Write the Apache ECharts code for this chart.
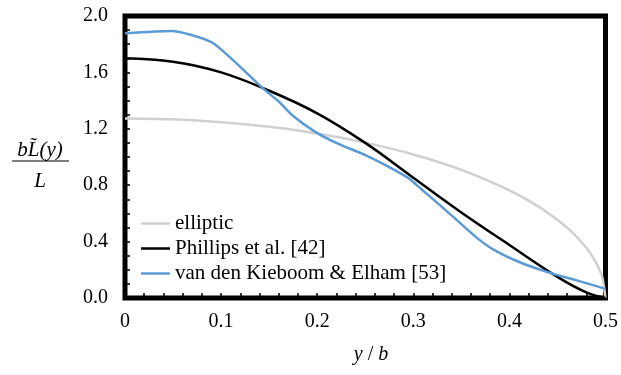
<!DOCTYPE html>
<html>
<head>
<meta charset="utf-8">
<script src="https://cdn.jsdelivr.net/npm/echarts@6/dist/echarts.min.js"></script>
<style>html,body{margin:0;padding:0;background:#fff;}#c{width:621px;height:375px;}</style>
</head>
<body>
<div id="c"></div>
<script>
// x = y/b, value = b*L~(y)/L
const ellipticX = [0, 0.05, 0.1, 0.15, 0.2, 0.25, 0.3, 0.35, 0.4, 0.43, 0.46, 0.48, 0.49, 0.495, 0.497, 0.5];
const ellipticY = [1.273, 1.267, 1.247, 1.214, 1.167, 1.102, 1.018, 0.909, 0.764, 0.650, 0.499, 0.356, 0.253, 0.180, 0.139, 0.0];

const phillipsX = [0, 0.05, 0.1, 0.15, 0.2, 0.25, 0.3, 0.35, 0.4, 0.45, 0.48, 0.5];
const phillipsY = [1.70, 1.675, 1.60, 1.47, 1.31, 1.10, 0.853, 0.607, 0.376, 0.15, 0.04, 0.0];

const kieboomX = [0, 0.048, 0.091, 0.143, 0.1605, 0.174, 0.198, 0.221, 0.25, 0.274, 0.295, 0.309, 0.333, 0.364, 0.383, 0.412, 0.4416, 0.47, 0.5];
const kieboomY = [1.878, 1.894, 1.81, 1.49, 1.39, 1.296, 1.178, 1.096, 1.014, 0.932, 0.85, 0.768, 0.627, 0.439, 0.345, 0.25, 0.18, 0.125, 0.065];

const seriesNames = ['elliptic', 'Phillips et al. [42]', 'van den Kieboom & Elham [53]'];
const xTicks = { min: 0, max: 0.5, interval: 0.1 };
const yTicks = { min: 0, max: 2.0, interval: 0.4 };

const pairs = (xs, ys) => xs.map((x, i) => [x, ys[i]]);
const FONT = '"Liberation Serif", "Times New Roman", serif';

const chart = echarts.init(document.getElementById('c'), null, { renderer: 'canvas' });
chart.setOption({
  animation: false,
  backgroundColor: '#fff',
  grid: { left: 125, top: 16, right: 13, bottom: 77, show: true, borderColor: '#000', borderWidth: 5, backgroundColor: 'transparent' },
  legend: {
    orient: 'vertical', left: 136, top: 208, itemWidth: 29, itemHeight: 2.5, itemGap: 4, icon: 'rect',
    textStyle: { fontFamily: FONT, fontSize: 21, color: '#000', lineHeight: 21 },
    data: seriesNames
  },
  xAxis: {
    type: 'value', min: xTicks.min, max: xTicks.max, interval: xTicks.interval,
    axisLine: { show: false },
    axisTick: { show: true, inside: true, length: 5, lineStyle: { color: '#000', width: 1.5 } },
    minorTick: { show: true, splitNumber: 5, length: 5, lineStyle: { color: '#000', width: 1.5 } },
    splitLine: { show: false },
    axisLabel: { margin: 14, fontFamily: FONT, fontSize: 20, color: '#000' }
  },
  yAxis: {
    type: 'value', min: yTicks.min, max: yTicks.max, interval: yTicks.interval,
    axisLine: { show: false },
    axisTick: { show: true, inside: true, length: 5, lineStyle: { color: '#000', width: 1.5 } },
    minorTick: { show: true, splitNumber: 4, length: 5, lineStyle: { color: '#000', width: 1.5 } },
    splitLine: { show: false },
    axisLabel: { margin: 17, fontFamily: FONT, fontSize: 20, color: '#000', formatter: v => v.toFixed(1) }
  },
  series: [
    { name: seriesNames[0], type: 'line', data: pairs(ellipticX, ellipticY), showSymbol: false, symbol: 'none', smooth: 0.25, lineStyle: { color: '#d0d0d0', width: 2.5 }, itemStyle: { color: '#d0d0d0' }, z: 2 },
    { name: seriesNames[1], type: 'line', data: pairs(phillipsX, phillipsY), showSymbol: false, symbol: 'none', smooth: 0.4, lineStyle: { color: '#000', width: 2.5 }, itemStyle: { color: '#000' }, z: 3 },
    { name: seriesNames[2], type: 'line', data: pairs(kieboomX, kieboomY), showSymbol: false, symbol: 'none', smooth: 0.2, lineStyle: { color: '#5b9bd5', width: 2.5 }, itemStyle: { color: '#5b9bd5' }, z: 4 }
  ],
  graphic: [
    { type: 'text', x: 40, y: 150, style: { text: 'bL\u0303(y)', fontFamily: FONT, fontStyle: 'italic', fontSize: 21, fill: '#000', align: 'center', verticalAlign: 'middle' } },
    { type: 'line', shape: { x1: 12, y1: 161, x2: 69, y2: 161 }, style: { stroke: '#000', lineWidth: 1.2 } },
    { type: 'text', x: 40, y: 181, style: { text: 'L', fontFamily: FONT, fontStyle: 'italic', fontSize: 21, fill: '#000', align: 'center', verticalAlign: 'middle' } },
    { type: 'text', x: 371, y: 355, style: {
        text: '{i|y} / {i|b}', align: 'center', verticalAlign: 'middle',
        fontFamily: FONT, fontSize: 20, fill: '#000',
        rich: { i: { fontFamily: FONT, fontStyle: 'italic', fontSize: 20, fill: '#000' } }
    } }
  ]
});
</script>
</body>
</html>
